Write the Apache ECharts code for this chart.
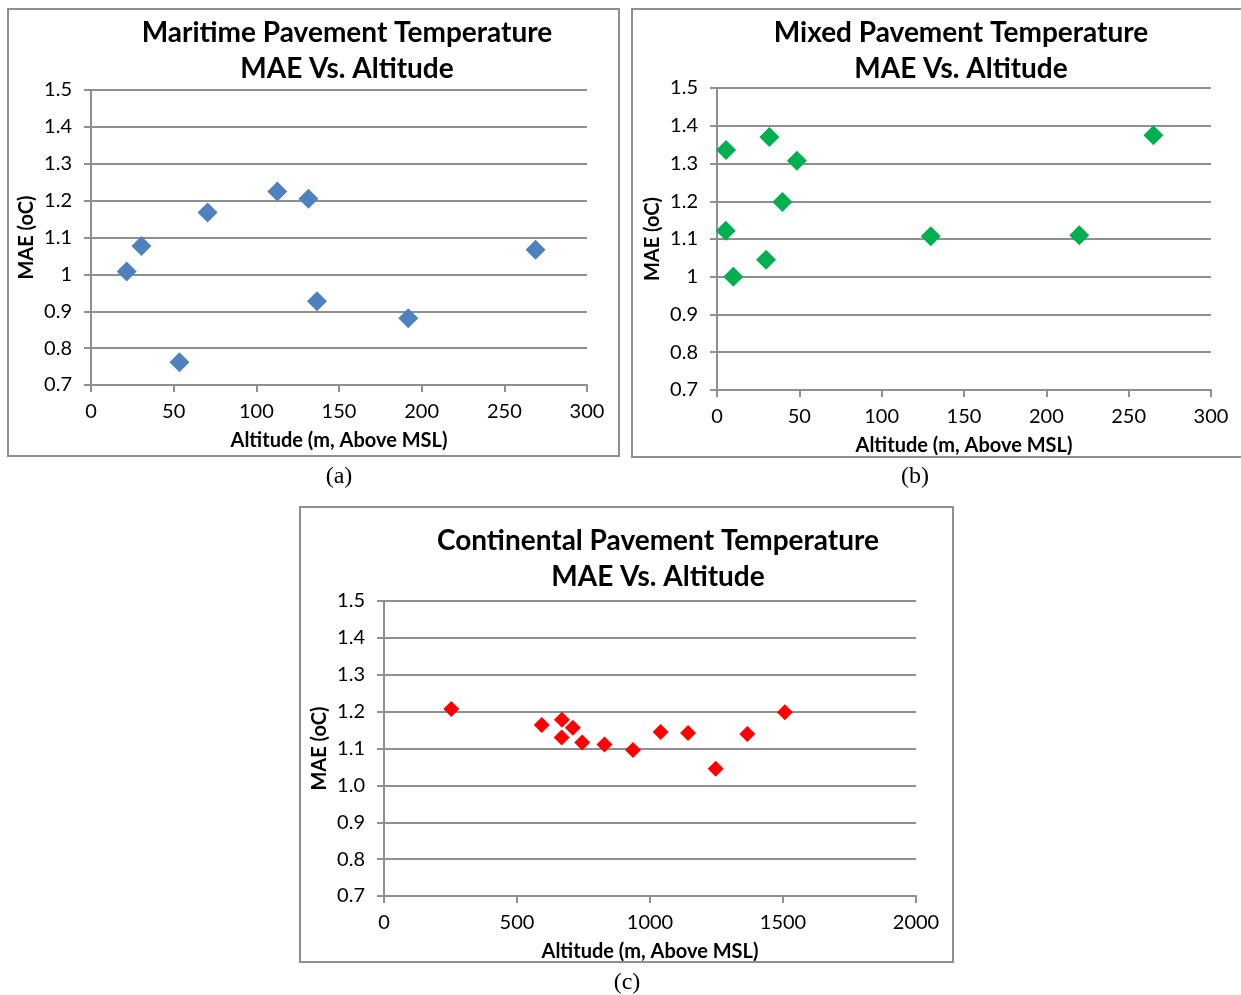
<!DOCTYPE html>
<html><head><meta charset="utf-8">
<script src="https://cdn.jsdelivr.net/npm/echarts@6/dist/echarts.min.js"></script>
<style>html,body{margin:0;padding:0;background:#fff}#c{width:1241px;height:995px}</style>
</head><body><div id="c"></div>
<script>
// Data
const maritimeAlt = [21.6, 30.5, 53.5, 70.5, 112.7, 131.5, 136.7, 191.9, 268.9];
const maritimeMAE = [1.008, 1.077, 0.762, 1.168, 1.225, 1.205, 0.927, 0.881, 1.067];
const mixedAlt = [5.5, 31.8, 48.5, 39.7, 5.3, 29.8, 9.9, 129.8, 220, 265];
const mixedMAE = [1.336, 1.370, 1.307, 1.198, 1.122, 1.045, 1.000, 1.107, 1.110, 1.375];
const contAlt = [253, 593, 669, 710, 668, 745, 829, 936, 1040, 1143, 1247, 1366, 1507];
const contMAE = [1.207, 1.164, 1.178, 1.156, 1.130, 1.116, 1.111, 1.096, 1.145, 1.142, 1.045, 1.139, 1.198];
const titles = ['Maritime Pavement Temperature\nMAE Vs. Altitude', 'Mixed Pavement Temperature\nMAE Vs. Altitude', 'Continental Pavement Temperature\nMAE Vs. Altitude'];
const captions = ['(a)', '(b)', '(c)'];
const xName = 'Altitude (m, Above MSL)';
const yName = 'MAE (oC)';

const FONT = 'Lato, "Open Sans", sans-serif';
const GRAY = '#8f8f8f';
const chart = echarts.init(document.getElementById('c'));
const zip = (a, b) => a.map((v, i) => [v, b[i]]);

function xAxis(idx, max, interval) {
  return {
    type: 'value', gridIndex: idx, min: 0, max: max, interval: interval,
    name: xName, nameLocation: 'middle', nameGap: 46,
    nameTextStyle: {fontFamily: FONT, fontWeight: 'bold', fontSize: 20, color: '#000'},
    axisLine: {show: true, lineStyle: {color: GRAY, width: 2}},
    axisTick: {show: true, length: 7, lineStyle: {color: GRAY, width: 2}},
    axisLabel: {fontFamily: FONT, fontSize: 20, color: '#000', margin: 17, formatter: v => String(v)},
    splitLine: {show: false}
  };
}
function yAxis(idx, fmt) {
  return {
    type: 'value', gridIndex: idx, min: 0.7, max: 1.5, interval: 0.1,
    name: yName, nameLocation: 'middle', nameGap: 54,
    nameTextStyle: {fontFamily: FONT, fontWeight: 'bold', fontSize: 20, color: '#000'},
    axisLine: {show: true, lineStyle: {color: GRAY, width: 2}},
    axisTick: {show: true, length: 7, lineStyle: {color: GRAY, width: 2}},
    axisLabel: {fontFamily: FONT, fontSize: 20, color: '#000', margin: 19,
      formatter: fmt ? (v => v.toFixed(1)) : (v => String(+v.toFixed(1)))},
    splitLine: {show: true, lineStyle: {color: GRAY, width: 2}}
  };
}
function textEl(text, x, y, font) {
  return {type: 'text', x: x, y: y, style: {text: text, font: font, fill: '#000', textAlign: 'center', textVerticalAlign: 'middle', lineHeight: 36}};
}
function frame(x, y, w, h) {
  return {type: 'rect', shape: {x: x, y: y, width: w, height: h}, style: {fill: 'none', stroke: GRAY, lineWidth: 2}};
}

chart.setOption({
  backgroundColor: '#fff',
  animation: false,
  grid: [
    {left: 91, top: 90, width: 496, height: 295},
    {left: 717, top: 88, width: 494, height: 302},
    {left: 384, top: 601, width: 532, height: 295}
  ],
  xAxis: [xAxis(0, 300, 50), xAxis(1, 300, 50), xAxis(2, 2000, 500)],
  yAxis: [yAxis(0, false), yAxis(1, false), yAxis(2, true)],
  series: [
    {type: 'scatter', xAxisIndex: 0, yAxisIndex: 0, symbol: 'diamond', symbolSize: 20, itemStyle: {color: '#4F81BD', opacity: 1}, data: zip(maritimeAlt, maritimeMAE)},
    {type: 'scatter', xAxisIndex: 1, yAxisIndex: 1, symbol: 'diamond', symbolSize: 20, itemStyle: {color: '#00B050', opacity: 1}, data: zip(mixedAlt, mixedMAE)},
    {type: 'scatter', xAxisIndex: 2, yAxisIndex: 2, symbol: 'diamond', symbolSize: 16, itemStyle: {color: '#FF0000', opacity: 1}, data: zip(contAlt, contMAE)}
  ],
  graphic: [
    frame(8, 9, 611, 447),
    frame(632, 9, 620, 448),
    frame(300, 507, 653, 455),
    textEl(titles[0], 347, 51, 'bold 28px ' + FONT),
    textEl(titles[1], 961, 51, 'bold 28px ' + FONT),
    textEl(titles[2], 658, 559, 'bold 28px ' + FONT),
    textEl(captions[0], 339, 477, '24px "Liberation Serif", serif'),
    textEl(captions[1], 915, 477, '24px "Liberation Serif", serif'),
    textEl(captions[2], 627, 983, '24px "Liberation Serif", serif')
  ]
});
</script></body></html>
